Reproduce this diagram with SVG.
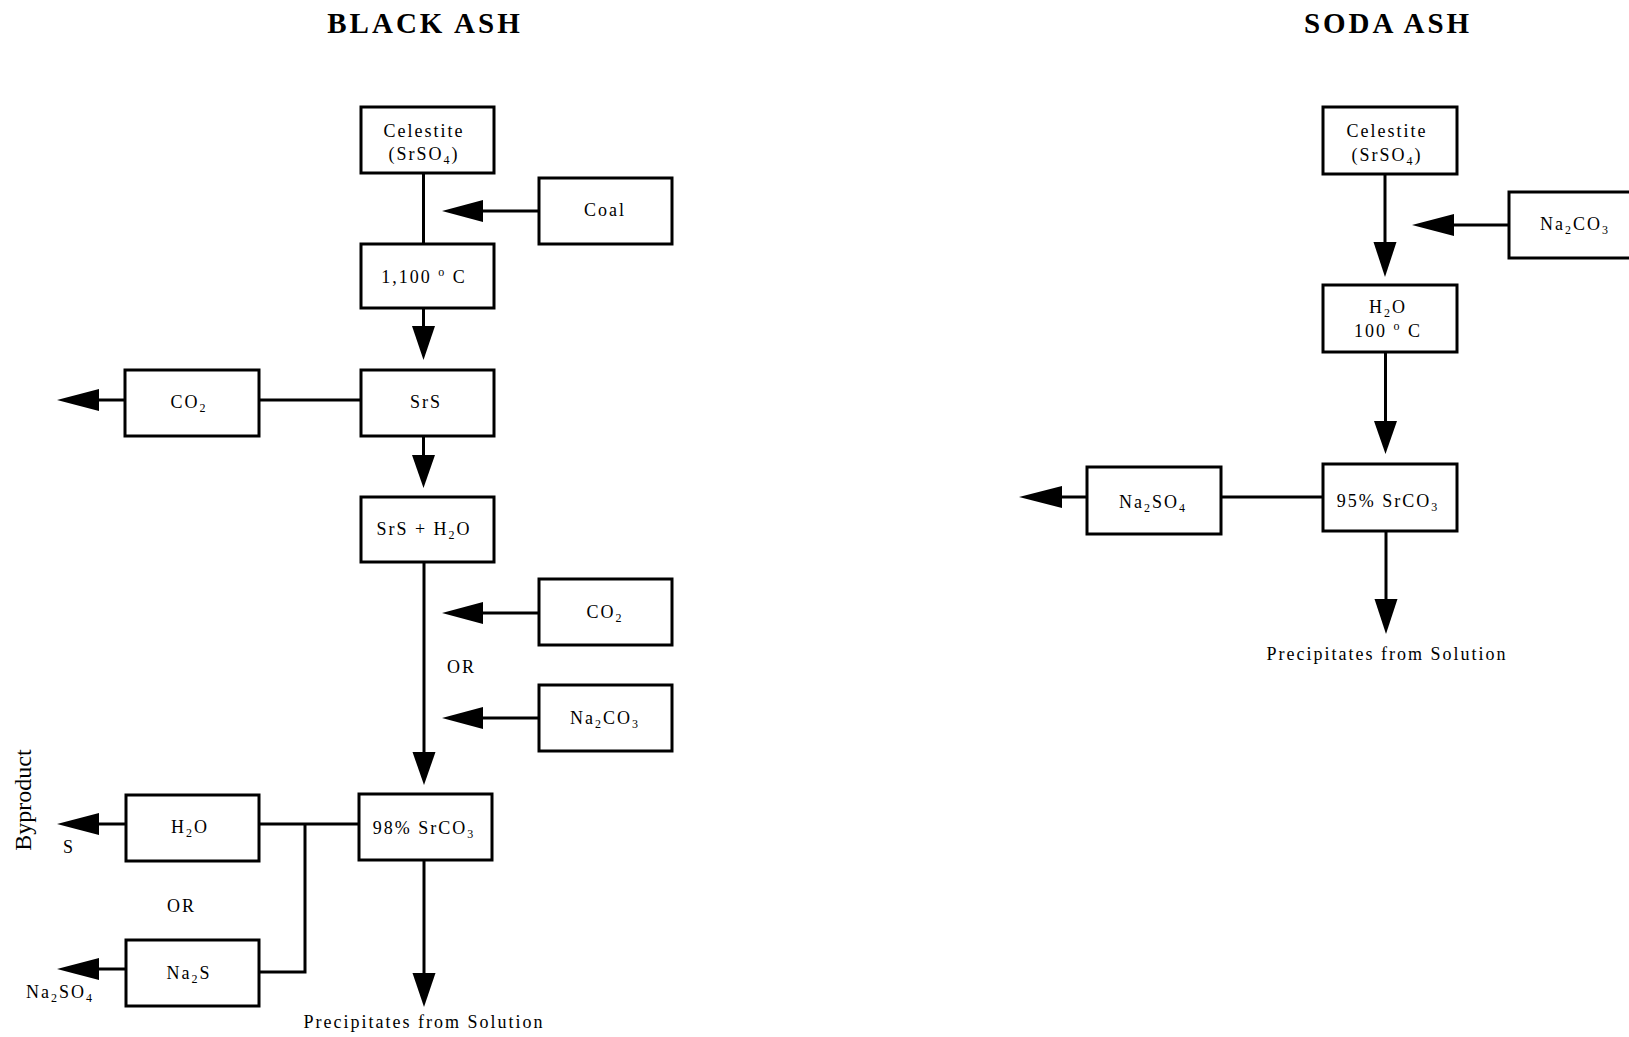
<svg xmlns="http://www.w3.org/2000/svg" width="1629" height="1037" viewBox="0 0 1629 1037">
  <style>
    .box { fill: #fff; stroke: #000; stroke-width: 3; }
    .ln { fill: none; stroke: #000; stroke-width: 3; }
    .hd { fill: #000; stroke: none; }
    text { font-family: "Liberation Serif", "Times New Roman", serif; font-size: 18px; letter-spacing: 2px; text-anchor: middle; fill: #000; }
    .title { font-size: 29px; font-weight: bold; letter-spacing: 3px; }
    .sub { font-size: 12px; }
    .plain { text-anchor: start; }
    .side { font-size: 24px; letter-spacing: 0; }
  </style>
  <rect width="1629" height="1037" fill="#fff"/>

  <!-- column headings -->
  <text class="title" x="425" y="33">BLACK ASH</text>
  <text class="title" x="1388" y="33">SODA ASH</text>

  <!-- connectors -->
  <g id="connectors">
    <!-- black ash route -->
    <line class="ln" x1="423.5" y1="173" x2="423.5" y2="244"/>
    <line class="ln" x1="539" y1="211" x2="480" y2="211"/>
    <polygon class="hd" points="442,211 483,200 483,222"/>
    <line class="ln" x1="423.5" y1="308" x2="423.5" y2="328"/>
    <polygon class="hd" points="423.5,360 412,326 435,326"/>
    <line class="ln" x1="361" y1="400" x2="259" y2="400"/>
    <line class="ln" x1="125" y1="400" x2="97" y2="400"/>
    <polygon class="hd" points="57,400 99,389 99,411"/>
    <line class="ln" x1="423.5" y1="436" x2="423.5" y2="457"/>
    <polygon class="hd" points="423.5,488 412,455 435,455"/>
    <line class="ln" x1="424" y1="562" x2="424" y2="754"/>
    <polygon class="hd" points="424,785 412.5,752 435.5,752"/>
    <line class="ln" x1="539" y1="613" x2="480" y2="613"/>
    <polygon class="hd" points="442,613 483,602 483,624"/>
    <line class="ln" x1="539" y1="718" x2="480" y2="718"/>
    <polygon class="hd" points="442,718 483,707 483,729"/>
    <line class="ln" x1="359" y1="824" x2="259" y2="824"/>
    <polyline class="ln" points="305,824 305,972 257,972"/>
    <line class="ln" x1="126" y1="824" x2="97" y2="824"/>
    <polygon class="hd" points="57,824 99,813 99,835"/>
    <line class="ln" x1="126" y1="969" x2="97" y2="969"/>
    <polygon class="hd" points="57,969 99,958 99,980"/>
    <line class="ln" x1="424" y1="861" x2="424" y2="975"/>
    <polygon class="hd" points="424,1007 412.5,973 435.5,973"/>

    <!-- soda ash route -->
    <line class="ln" x1="1385" y1="174" x2="1385" y2="244"/>
    <polygon class="hd" points="1385,277 1373.5,242 1396.5,242"/>
    <line class="ln" x1="1509" y1="225" x2="1452" y2="225"/>
    <polygon class="hd" points="1412,225 1454,214 1454,236"/>
    <line class="ln" x1="1385.5" y1="352" x2="1385.5" y2="424"/>
    <polygon class="hd" points="1385.5,454 1374,421 1397,421"/>
    <line class="ln" x1="1323" y1="497" x2="1221" y2="497"/>
    <line class="ln" x1="1087" y1="497" x2="1060" y2="497"/>
    <polygon class="hd" points="1019,497 1062,486 1062,508"/>
    <line class="ln" x1="1386" y1="531" x2="1386" y2="602"/>
    <polygon class="hd" points="1386,634 1374.5,599 1397.5,599"/>
  </g>

  <!-- black ash nodes -->
  <g id="ba-celestite">
    <rect class="box" x="361" y="107" width="133" height="66"/>
    <text x="424" y="137">Celestite</text>
    <text x="424" y="160">(SrSO<tspan class="sub" dy="4">4</tspan><tspan dy="-4">)</tspan></text>
  </g>
  <g id="ba-coal">
    <rect class="box" x="539" y="178" width="133" height="66"/>
    <text x="605" y="216">Coal</text>
  </g>
  <g id="ba-kiln">
    <rect class="box" x="361" y="244" width="133" height="64"/>
    <text x="424" y="283">1,100 <tspan class="sub" dy="-7">o</tspan><tspan dy="7"> C</tspan></text>
  </g>
  <g id="ba-srs">
    <rect class="box" x="361" y="370" width="133" height="66"/>
    <text x="426" y="408">SrS</text>
  </g>
  <g id="ba-co2-out">
    <rect class="box" x="125" y="370" width="134" height="66"/>
    <text x="189" y="408">CO<tspan class="sub" dy="4">2</tspan></text>
  </g>
  <g id="ba-leach">
    <rect class="box" x="361" y="497" width="133" height="65"/>
    <text x="424" y="535">SrS + H<tspan class="sub" dy="4">2</tspan><tspan dy="-4">O</tspan></text>
  </g>
  <g id="ba-co2-in">
    <rect class="box" x="539" y="579" width="133" height="66"/>
    <text x="605" y="618">CO<tspan class="sub" dy="4">2</tspan></text>
  </g>
  <g id="ba-or-1">
    <text class="plain" x="447" y="673">OR</text>
  </g>
  <g id="ba-na2co3-in">
    <rect class="box" x="539" y="685" width="133" height="66"/>
    <text x="605" y="724">Na<tspan class="sub" dy="4">2</tspan><tspan dy="-4">CO</tspan><tspan class="sub" dy="4">3</tspan></text>
  </g>
  <g id="ba-product">
    <rect class="box" x="359" y="794" width="133" height="66"/>
    <text x="424" y="834">98% SrCO<tspan class="sub" dy="4">3</tspan></text>
  </g>
  <g id="ba-h2o">
    <rect class="box" x="126" y="795" width="133" height="66"/>
    <text x="190" y="833">H<tspan class="sub" dy="4">2</tspan><tspan dy="-4">O</tspan></text>
  </g>
  <g id="ba-or-2">
    <text class="plain" x="167" y="912">OR</text>
  </g>
  <g id="ba-na2s">
    <rect class="box" x="126" y="940" width="133" height="66"/>
    <text x="189" y="979">Na<tspan class="sub" dy="4">2</tspan><tspan dy="-4">S</tspan></text>
  </g>
  <g id="ba-byproducts">
    <text class="side" transform="translate(31,800) rotate(-90)">Byproduct</text>
    <text class="plain" x="63" y="853">S</text>
    <text class="plain" x="26" y="998">Na<tspan class="sub" dy="4">2</tspan><tspan dy="-4">SO</tspan><tspan class="sub" dy="4">4</tspan></text>
  </g>
  <g id="ba-precip">
    <text x="424" y="1028">Precipitates from Solution</text>
  </g>

  <!-- soda ash nodes -->
  <g id="sa-celestite">
    <rect class="box" x="1323" y="107" width="134" height="67"/>
    <text x="1387" y="137">Celestite</text>
    <text x="1387" y="161">(SrSO<tspan class="sub" dy="4">4</tspan><tspan dy="-4">)</tspan></text>
  </g>
  <g id="sa-na2co3-in">
    <rect class="box" x="1509" y="192" width="134" height="66"/>
    <text x="1575" y="230">Na<tspan class="sub" dy="4">2</tspan><tspan dy="-4">CO</tspan><tspan class="sub" dy="4">3</tspan></text>
  </g>
  <g id="sa-digest">
    <rect class="box" x="1323" y="285" width="134" height="67"/>
    <text x="1388" y="313">H<tspan class="sub" dy="4">2</tspan><tspan dy="-4">O</tspan></text>
    <text x="1388" y="337">100 <tspan class="sub" dy="-7">o</tspan><tspan dy="7"> C</tspan></text>
  </g>
  <g id="sa-product">
    <rect class="box" x="1323" y="464" width="134" height="67"/>
    <text x="1388" y="507">95% SrCO<tspan class="sub" dy="4">3</tspan></text>
  </g>
  <g id="sa-na2so4">
    <rect class="box" x="1087" y="467" width="134" height="67"/>
    <text x="1153" y="508">Na<tspan class="sub" dy="4">2</tspan><tspan dy="-4">SO</tspan><tspan class="sub" dy="4">4</tspan></text>
  </g>
  <g id="sa-precip">
    <text x="1387" y="660">Precipitates from Solution</text>
  </g>
</svg>
